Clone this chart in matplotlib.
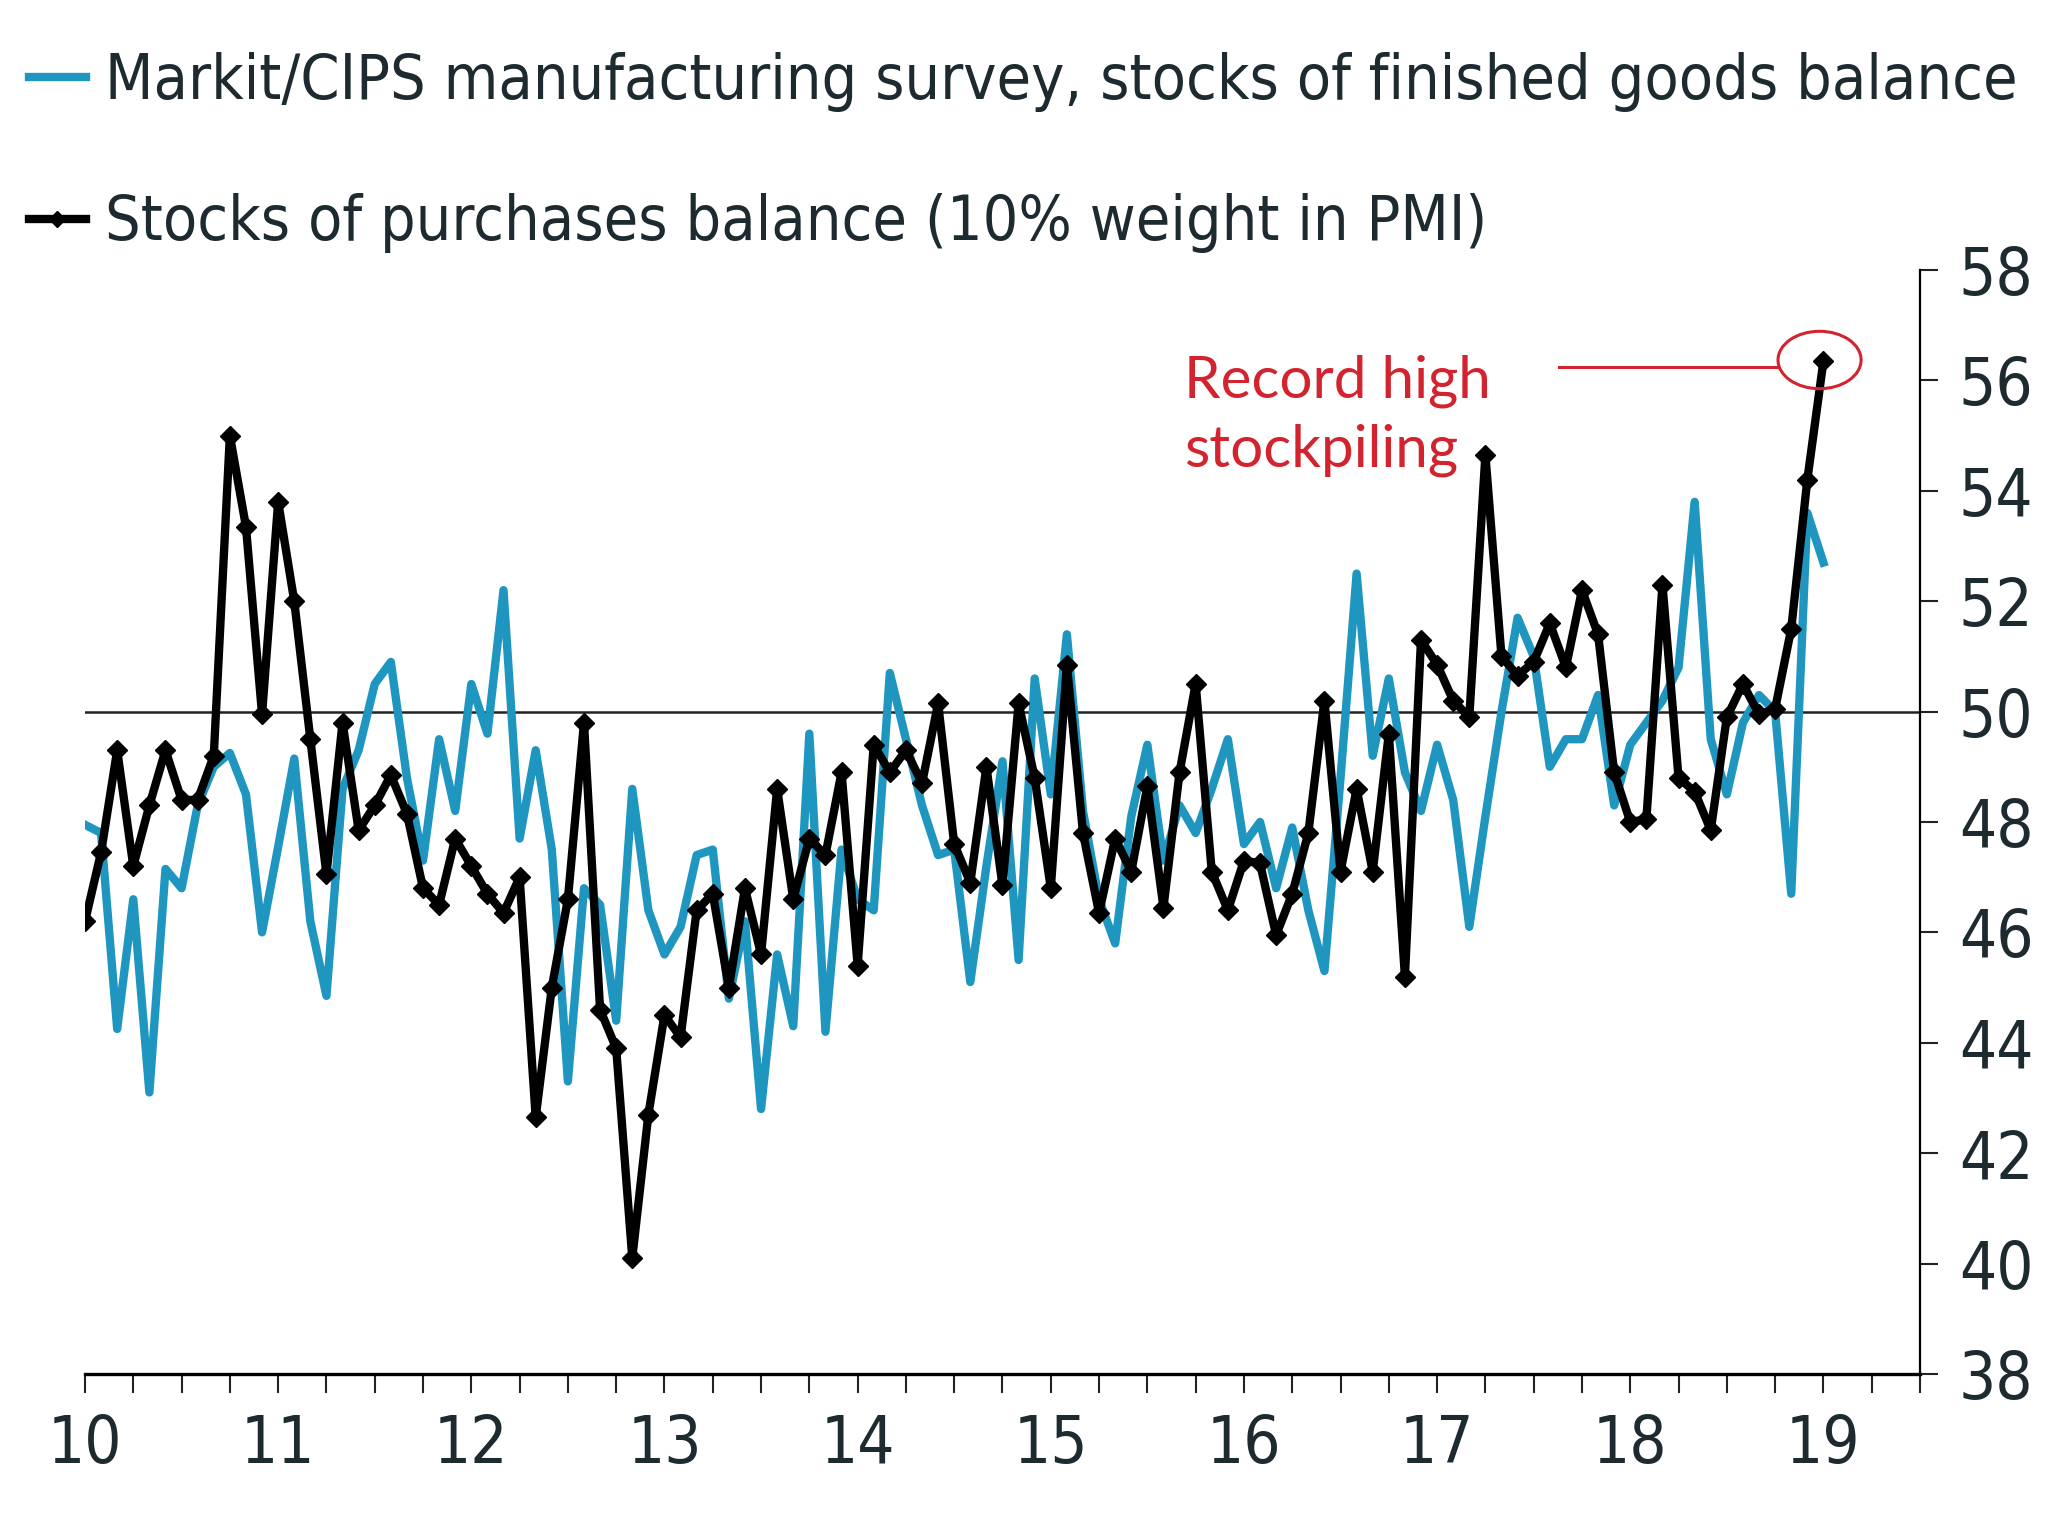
import numpy as np
import matplotlib.pyplot as plt
from matplotlib.patches import Ellipse
from matplotlib.font_manager import FontProperties

# monthly observations, Jan 2010 .. Jan 2019
finished_goods = [
    47.95, 47.8, 44.25, 46.6, 43.1, 47.15, 46.8, 48.3, 49.0, 49.25, 48.5, 46.0,
    47.55, 49.15, 46.2, 44.85, 48.6, 49.3, 50.5, 50.9, 48.8, 47.3, 49.5, 48.2,
    50.5, 49.6, 52.2, 47.7, 49.3, 47.5, 43.3, 46.8, 46.5, 44.4, 48.6, 46.4,
    45.6, 46.1, 47.4, 47.5, 44.8, 46.2, 42.8, 45.6, 44.3, 49.6, 44.2, 47.5,
    46.6, 46.4, 50.7, 49.5, 48.3, 47.4, 47.5, 45.1, 47.2, 49.1, 45.5, 50.6,
    48.5, 51.4, 48.2, 46.6, 45.8, 48.1, 49.4, 47.3, 48.3, 47.8, 48.6, 49.5,
    47.6, 48.0, 46.8, 47.9, 46.4, 45.3, 48.8, 52.5, 49.2, 50.6, 48.9, 48.2,
    49.4, 48.4, 46.1, 48.1, 50.0, 51.7, 51.0, 49.0, 49.5, 49.5, 50.3, 48.3,
    49.4, 49.8, 50.2, 50.8, 53.8, 49.5, 48.5, 49.8, 50.3, 50.0, 46.7, 53.6,
    52.7,
]
purchases = [
    46.2, 47.45, 49.3, 47.2, 48.3, 49.3, 48.4, 48.4, 49.2, 55.0, 53.35, 49.95,
    53.8, 52.0, 49.5, 47.05, 49.8, 47.85, 48.3, 48.85, 48.15, 46.8, 46.5, 47.7,
    47.2, 46.7, 46.35, 47.0, 42.65, 45.0, 46.6, 49.8, 44.6, 43.9, 40.1, 42.7,
    44.5, 44.1, 46.4, 46.7, 45.0, 46.8, 45.6, 48.6, 46.6, 47.7, 47.4, 48.9,
    45.4, 49.4, 48.9, 49.3, 48.7, 50.15, 47.6, 46.9, 49.0, 46.85, 50.15, 48.8,
    46.8, 50.85, 47.8, 46.35, 47.7, 47.1, 48.65, 46.45, 48.9, 50.5, 47.1, 46.4,
    47.3, 47.25, 45.95, 46.7, 47.8, 50.2, 47.1, 48.6, 47.1, 49.6, 45.2, 51.3,
    50.85, 50.2, 49.9, 54.65, 51.0, 50.65, 50.9, 51.6, 50.8, 52.2, 51.4, 48.9,
    48.0, 48.05, 52.3, 48.8, 48.55, 47.85, 49.9, 50.5, 49.95, 50.05, 51.5, 54.2,
    56.35,
]
year_ticks = list(range(10, 20))
year_labels = [str(y) for y in year_ticks]
y_ticks = list(range(38, 59, 2))

label_blue = 'Markit/CIPS manufacturing survey, stocks of finished goods balance'
label_black = 'Stocks of purchases balance (10% weight in PMI)'

BLUE = '#1e96c0'
TXT = '#1d2b30'
RED = '#d2232f'

x = 10 + np.arange(len(purchases)) / 12.0

fig = plt.figure(figsize=(20.48, 15.36), dpi=100)
ax = fig.add_axes([0.0415, 0.1055, 0.896, 0.7187])

l1, = ax.plot(x, finished_goods, color=BLUE, lw=6, zorder=2)
l2, = ax.plot(x, purchases, color='black', lw=6, marker='D', ms=10,
              zorder=3)
ax.axhline(50, color='#222222', lw=1.8, zorder=1)

ax.set_xlim(10, 19.5)
ax.set_ylim(38, 58)

for s in ['top', 'left']:
    ax.spines[s].set_visible(False)
ax.spines['right'].set_linewidth(1.6)
ax.spines['bottom'].set_linewidth(2.4)

ax.yaxis.tick_right()
ax.set_yticks(y_ticks)
ax.set_yticklabels([str(v) for v in y_ticks])
ax.set_xticks(year_ticks)
ax.set_xticklabels(year_labels)
ax.set_xticks(np.arange(10, 19.51, 0.25), minor=True)
ax.tick_params(axis='x', which='both', direction='out', length=14, width=1.5,
               color='#222222', pad=14)
ax.tick_params(axis='y', direction='out', length=13, width=1.5,
               color='#222222', pad=15)
for lab in ax.get_xticklabels() + ax.get_yticklabels():
    lab.set_family('DejaVu Sans')
    lab.set_fontstretch('condensed')
    lab.set_fontsize(47)
    lab.set_color(TXT)

# annotation
ax.text(15.69, 55.36, 'Record high\nstockpiling', color=RED, fontsize=42,
        family=['Lato', 'DejaVu Sans'], va='center', ha='left',
        linespacing=1.35)
ax.plot([17.63, 18.76], [56.25, 56.25], color=RED, lw=2.2, zorder=4)
ax.add_patch(Ellipse((18.98, 56.37), 0.43, 1.04, fill=False, ec=RED, lw=2.2,
                     zorder=4))

leg_font = FontProperties(family='DejaVu Sans', stretch='condensed', size=45)
leg = fig.legend([l1, l2], [label_blue, label_black], loc='upper left',
                 bbox_to_anchor=(0.014, 0.966), frameon=False,
                 handlelength=0.92, handletextpad=0.3, labelspacing=1.3,
                 borderpad=0, borderaxespad=0, numpoints=1, markerscale=0.8,
                 prop=leg_font)
for t in leg.get_texts():
    t.set_color(TXT)

fig.savefig('out.png', dpi=100)
